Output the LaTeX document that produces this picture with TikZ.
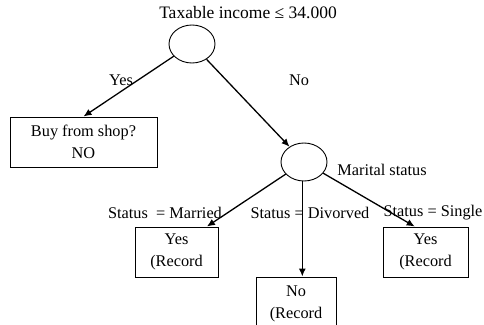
\documentclass[tikz,border=0pt]{standalone}
\usepackage{fontspec}
\setmainfont{Liberation Serif}
\usetikzlibrary{shapes.geometric,arrows.meta}

\begin{document}
\begin{tikzpicture}[x=1pt,y=-1pt,
  font=\fontsize{16.3}{22}\selectfont,
  test/.style={ellipse,draw,line width=0.9pt,minimum width=46pt,minimum height=38pt},
  leaf/.style={rectangle,draw,line width=1pt,align=center,inner sep=0pt},
  branch/.style={draw,line width=1.3pt,-{Latex[length=8pt,width=7pt]}}]
  \clip (0,0) rectangle (484,324);
  % tests
  \node[test] (income) at (192,44) {};
  \node[font=\fontsize{17.5}{22}\selectfont] (incometext) at (248,13) {Taxable income ≤ 34.000};
  \node[test] (marital) at (304,162) {};
  \node (maritaltext) at (382,170) {Marital status};
  % leaves
  \node[leaf,minimum width=147pt,minimum height=50pt] (buy) at (83.5,142) {Buy from shop?\\NO};
  \node[leaf,minimum width=83pt,minimum height=50pt] (married) at (176.5,252) {Yes\\(Record};
  \node[leaf,minimum width=80pt,minimum height=54pt] (divorced) at (296,304) {No\\(Record};
  \node[leaf,minimum width=85pt,minimum height=50pt] (single) at (425.5,252) {Yes\\(Record};
  % branches
  \draw[branch] (income) -- (buy.north);
  \draw[branch] (income) -- (marital);
  \draw[branch] (marital) -- (married.40);
  \draw[branch] (marital.265) -- (marital.265 |- divorced.north);
  \draw[branch] (marital) -- (single.113);
  % branch labels
  \node (yes) at (121,80) {Yes};
  \node (no) at (299,80) {No};
  \node (marriedtext) at (165,213) {Status\ \ = Married};
  \node (divorcedtext) at (310,213) {Status = Divorved};
  \node (singletext) at (433,213) {Status = Single};
\end{tikzpicture}
\end{document}
